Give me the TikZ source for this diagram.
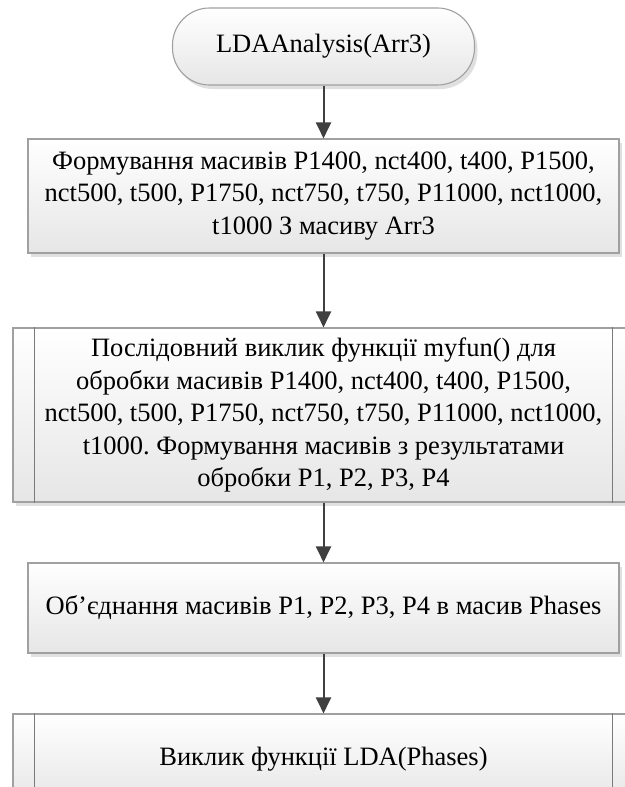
\documentclass[tikz,border=0pt]{standalone}
\usepackage{fontspec}
\setmainfont{Liberation Serif}
\usetikzlibrary{arrows.meta,shadows}
\frenchspacing

\definecolor{edgegray}{HTML}{A0A0A0}
\definecolor{sidegray}{HTML}{7A7A7A}
\definecolor{arrowgray}{HTML}{404040}
\definecolor{shadegray}{HTML}{E6E6E6}

\tikzset{
  blockbase/.style={draw=edgegray, line width=1.1pt,
    top color=white, bottom color=shadegray,
    drop shadow={shadow xshift=3pt, shadow yshift=-4pt, fill=black!30, opacity=0.4},
    font=\fontsize{26.5pt}{32.5pt}\selectfont, align=center, inner sep=0pt},
  terminal/.style={blockbase, rectangle, rounded corners=37pt},
  process/.style={blockbase, rectangle},
  subproc/.style={blockbase, rectangle},
  flow/.style={draw=arrowgray, line width=2pt,
    -{Triangle[length=16pt, width=15pt]}},
  sideline/.style={draw=sidegray, line width=1.1pt}
}

\begin{document}
\begin{tikzpicture}[x=1pt, y=-1pt]
  \useasboundingbox (0,0) rectangle (624,787);

  % start terminal
  \node[terminal, minimum width=302pt, minimum height=77pt] (start) at (323.5,46.5)
    {LDAAnalysis(Arr3)};

  % array extraction
  \node[process, minimum width=591pt, minimum height=114pt] (form) at (323.5,196)
    {Формування масивів P1400, nct400, t400, P1500,\\
     nct500, t500, P1750, nct750, t750, P11000, nct1000,\\
     t1000 З масиву Arr3};

  % sequential processing (predefined process)
  \node[subproc, minimum width=621pt, minimum height=174pt] (proc) at (323.5,415)
    {Послідовний виклик функції myfun() для\\
     обробки масивів P1400, nct400, t400, P1500,\\
     nct500, t500, P1750, nct750, t750, P11000, nct1000,\\
     t1000. Формування масивів з результатами\\
     обробки P1, P2, P3, P4};
  \draw[sideline] ([xshift=22pt]proc.north west) -- ([xshift=22pt]proc.south west);
  \draw[sideline] ([xshift=-22pt]proc.north east) -- ([xshift=-22pt]proc.south east);

  % merge
  \node[process, minimum width=591pt, minimum height=90pt] (merge) at (323.5,608)
    {Об’єднання масивів P1, P2, P3, P4 в масив Phases};

  % LDA call (predefined process)
  \node[subproc, minimum width=621pt, minimum height=90pt] (lda) at (323.5,759)
    {Виклик функції LDA(Phases)};
  \draw[sideline] ([xshift=22pt]lda.north west) -- ([xshift=22pt]lda.south west);
  \draw[sideline] ([xshift=-22pt]lda.north east) -- ([xshift=-22pt]lda.south east);

  % connectors
  \draw[flow] (start) -- (form);
  \draw[flow] (form) -- (proc);
  \draw[flow] (proc) -- (merge);
  \draw[flow] (merge) -- (lda);
\end{tikzpicture}
\end{document}
